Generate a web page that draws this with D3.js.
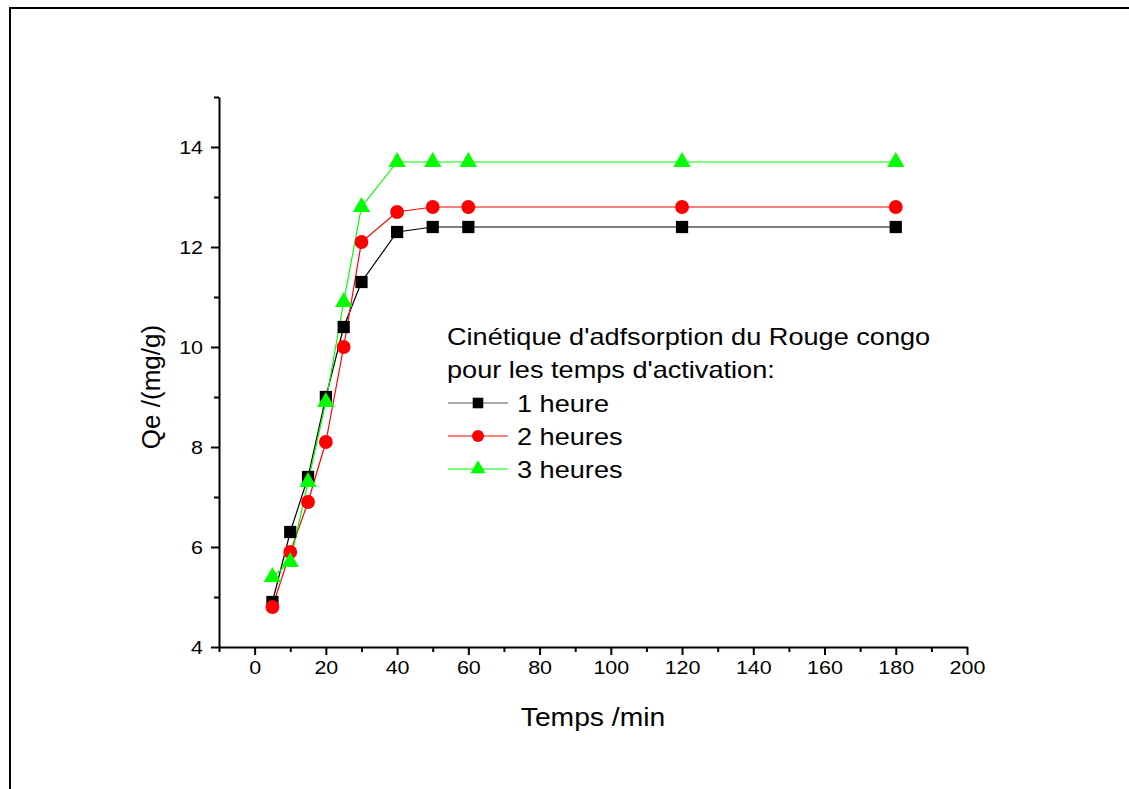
<!DOCTYPE html>
<html>
<head>
<meta charset="utf-8">
<script src="https://cdn.jsdelivr.net/npm/d3@7"></script>
<style>
  html, body { margin: 0; padding: 0; background: #fff; }
  svg { display: block; }
  svg text { font-family: "Liberation Sans", Arial, sans-serif; fill: #000; }
</style>
</head>
<body>
<div id="chart"></div>
<script>
const times = [5, 10, 15, 20, 25, 30, 40, 50, 60, 120, 180];
const qe1h = [4.9, 6.3, 7.4, 9.0, 10.4, 11.3, 12.3, 12.4, 12.4, 12.4, 12.4];
const qe2h = [4.8, 5.9, 6.9, 8.1, 10.0, 12.1, 12.7, 12.8, 12.8, 12.8, 12.8];
const qe3h = [5.4, 5.7, 7.3, 8.9, 10.9, 12.8, 13.7, 13.7, 13.7, 13.7, 13.7];
const seriesNames = ["1 heure", "2 heures", "3 heures"];
const legendTitle = ["Cinétique d'adfsorption du Rouge congo", "pour les temps d'activation:"];
const xTicks = d3.range(0, 201, 20);
const yTicks = [4, 6, 8, 10, 12, 14];

const width = 1129, height = 789,
  margin = { top: 97, right: 162, bottom: 142, left: 219 },
  xMax = width - margin.left - margin.right,
  yMax = height - margin.top - margin.bottom;

const styles = [
  { color: "#000000", symbol: d3.symbolSquare, size: 150 },
  { color: "#ff0000", symbol: d3.symbolCircle, size: 150 },
  { color: "#00ff00", symbol: d3.symbolTriangle, size: 130 }
];
const series = [qe1h, qe2h, qe3h].map((vals, i) => ({
  name: seriesNames[i],
  style: styles[i],
  points: times.map((t, j) => [t, vals[j]])
}));

// the original export is a bit wider than tall, so horizontal text is widened
const widen = (sel, k = 1.13) => sel.each(function () {
  const w = this.getComputedTextLength();
  d3.select(this).attr("textLength", w * k).attr("lengthAdjust", "spacingAndGlyphs");
});

const scaleX = d3.scaleLinear().domain([-10, 200]).range([0, xMax]);
const scaleY = d3.scaleLinear().domain([4, 15]).range([yMax, 0]);

const svg = d3.select("#chart").append("svg")
  .attr("width", width).attr("height", height);

// page frame (clipped on right and bottom)
svg.append("rect")
  .attr("x", 10).attr("y", 8)
  .attr("width", 1300).attr("height", 1000)
  .attr("fill", "none").attr("stroke", "#000").attr("stroke-width", 2);

const chart = svg.append("g")
  .attr("transform", `translate(${margin.left}, ${margin.top})`);

// minor ticks
chart.append("g")
  .attr("transform", `translate(0, ${yMax})`)
  .call(d3.axisBottom(scaleX).tickValues(d3.range(-10, 201, 20)).tickSize(5).tickFormat(""))
  .call(g => g.select(".domain").remove())
  .call(g => g.selectAll("line").attr("stroke-width", 2));
chart.append("g")
  .call(d3.axisLeft(scaleY).tickValues(d3.range(5, 16, 2)).tickSize(5).tickFormat(""))
  .call(g => g.select(".domain").remove())
  .call(g => g.selectAll("line").attr("stroke-width", 2));

// major axes
const xAxis = chart.append("g")
  .attr("transform", `translate(0, ${yMax})`)
  .call(d3.axisBottom(scaleX).tickValues(xTicks).tickSize(8).tickSizeOuter(0).tickPadding(6));
const yAxis = chart.append("g")
  .call(d3.axisLeft(scaleY).tickValues(yTicks).tickSize(8).tickSizeOuter(0).tickPadding(8));

[xAxis, yAxis].forEach(ax => {
  ax.attr("font-size", null).attr("font-family", null);
  ax.select(".domain").attr("stroke-width", 2);
  ax.selectAll(".tick line").attr("stroke-width", 2);
  ax.selectAll(".tick text").style("font-size", "19px").call(widen);
});

// axis titles
chart.append("text")
  .attr("x", scaleX(95)).attr("y", yMax + 79)
  .attr("text-anchor", "middle").style("font-size", "25px")
  .text("Temps /min")
  .call(widen);
chart.append("text")
  .attr("transform", `translate(${-59}, ${scaleY(9.2)}) rotate(-90)`)
  .attr("text-anchor", "middle").style("font-size", "26px")
  .text("Qe /(mg/g)");

// lines and markers
const line = d3.line().x(d => scaleX(d[0])).y(d => scaleY(d[1]));
series.forEach(s => {
  chart.append("path")
    .attr("d", line(s.points))
    .attr("fill", "none")
    .attr("stroke", s.style.color)
    .attr("stroke-width", 1.2);
});
series.forEach(s => {
  chart.append("g").selectAll("path")
    .data(s.points).enter().append("path")
    .attr("d", d3.symbol().type(s.style.symbol).size(s.style.size))
    .attr("transform", d => `translate(${scaleX(d[0])}, ${scaleY(d[1])})`)
    .attr("fill", s.style.color);
});

// legend
const legend = svg.append("g").attr("transform", "translate(447, 0)");
legendTitle.forEach((t, i) => {
  legend.append("text")
    .attr("x", 0).attr("y", 345 + i * 33)
    .style("font-size", "24px")
    .text(t)
    .call(widen);
});
series.forEach((s, i) => {
  const cy = 403 + i * 33;
  legend.append("line")
    .attr("x1", 1).attr("x2", 61).attr("y1", cy).attr("y2", cy)
    .attr("stroke", i === 0 ? "#555" : s.style.color).attr("stroke-width", 1.2);
  legend.append("path")
    .attr("d", d3.symbol().type(s.style.symbol).size(s.style.size * 0.75))
    .attr("transform", `translate(31, ${cy})`)
    .attr("fill", s.style.color);
  legend.append("text")
    .attr("x", 70).attr("y", cy + 9)
    .style("font-size", "24px")
    .text(s.name)
    .call(widen);
});
</script>
</body>
</html>
